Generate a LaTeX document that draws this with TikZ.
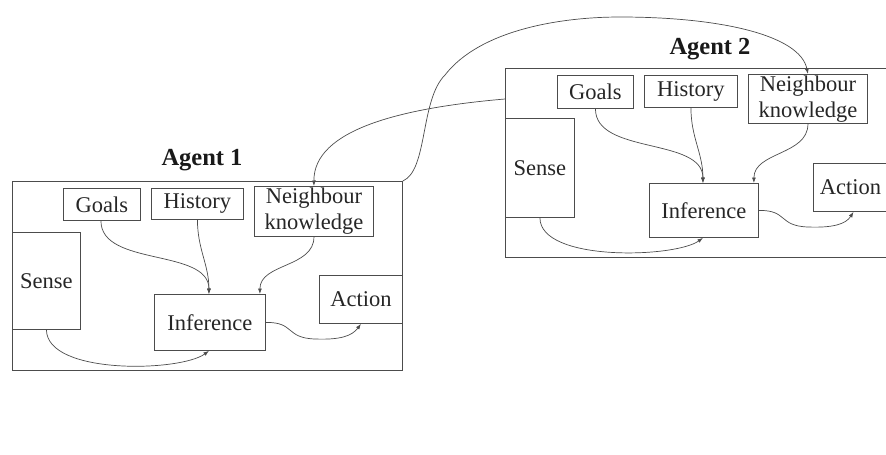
\documentclass[tikz,border=0pt]{standalone}
\usepackage{fontspec}
\setmainfont{Liberation Serif}
\usetikzlibrary{arrows.meta}
\begin{document}
\begin{tikzpicture}[x=1pt,y=-1pt,
  frame/.style={draw=black!70,line width=0.9pt,inner sep=0pt,anchor=north west},
  box/.style={draw=black!70,line width=0.9pt,inner sep=0pt,anchor=north west,
    align=center,text=black!85,font=\fontsize{22.5}{26}\selectfont},
  title/.style={text=black!90,font=\fontsize{24.5}{28}\selectfont\bfseries},
  flow/.style={draw=black!70,line width=0.7pt,-{Latex[length=5.5pt,width=4pt]}}]
\useasboundingbox (0,0) rectangle (886,455);

% ---- Agent 1 ----
\node[frame,minimum width=390pt,minimum height=189pt] (agent1) at (12,181) {};
\node[title] (t1) at (202,160) {Agent 1};
\node[box,minimum width=77pt,minimum height=32pt] (g1) at (63,188) {Goals};
\node[box,minimum width=92pt,minimum height=31pt] (h1) at (151,188) {History};
\node[box,minimum width=119pt,minimum height=50pt] (n1) at (254,186) {Neighbour\\knowledge};
\node[box,minimum width=68pt,minimum height=97pt] (s1) at (12,232) {Sense};
\node[box,minimum width=111pt,minimum height=56pt] (i1) at (154,294) {Inference};
\node[box,minimum width=83pt,minimum height=48pt] (a1) at (319,275) {Action};

\draw[flow] ([xshift=-1pt]g1.south) to[out=-90,in=90,looseness=0.9] ([xshift=-1pt]i1.north);
\draw[flow] ([xshift=0pt]h1.south) to[out=-90,in=90] ([xshift=-1pt]i1.north);
\draw[flow] (n1.south) to[out=-90,in=90] ([xshift=-6pt]i1.north east);
\draw[flow] (s1.south) .. controls (47,375) and (180,372) .. ([xshift=-1pt]i1.south);
\draw[flow] (i1.east) .. controls (295,322) and (285,338) .. (315,339)
  .. controls (340,340) and (352,336) .. (a1.south);

% ---- Agent 2 ----
\node[frame,minimum width=382pt,minimum height=189pt] (agent2) at (505,68) {};
\node[title] (t2) at (710,49) {Agent 2};
\node[box,minimum width=76pt,minimum height=33pt] (g2) at (557,75) {Goals};
\node[box,minimum width=93pt,minimum height=32pt] (h2) at (644,75) {History};
\node[box,minimum width=119pt,minimum height=49pt] (n2) at (748,74) {Neighbour\\knowledge};
\node[box,minimum width=69pt,minimum height=99pt] (s2) at (505,118) {Sense};
\node[box,minimum width=109pt,minimum height=54pt] (i2) at (649,183) {Inference};
\node[box,minimum width=74pt,minimum height=48pt] (a2) at (813,163) {Action};

\draw[flow] (g2.south) to[out=-90,in=90,looseness=0.9] ([xshift=-1pt]i2.north);
\draw[flow] (h2.south) to[out=-90,in=90] ([xshift=-1pt]i2.north);
\draw[flow] (n2.south) to[out=-90,in=90] ([xshift=-5pt]i2.north east);
\draw[flow] (s2.south) .. controls (540,262) and (675,258) .. ([xshift=-1pt]i2.south);
\draw[flow] (i2.east) .. controls (788,210) and (778,226) .. (808,227)
  .. controls (833,228) and (846,224) .. ([xshift=3pt]a2.south);

% ---- links between the agents ----
\coordinate (a2side) at (505,99);
\draw[flow] (a2side) .. controls (400,108) and (313.5,130) .. (n1.north);
\draw[flow] (agent1.north east) .. controls (428,170) and (420,100) .. (445,75)
  .. controls (480,30) and (560,17) .. (620,17)
  .. controls (720,17) and (800,35) .. (n2.north);
\end{tikzpicture}
\end{document}
